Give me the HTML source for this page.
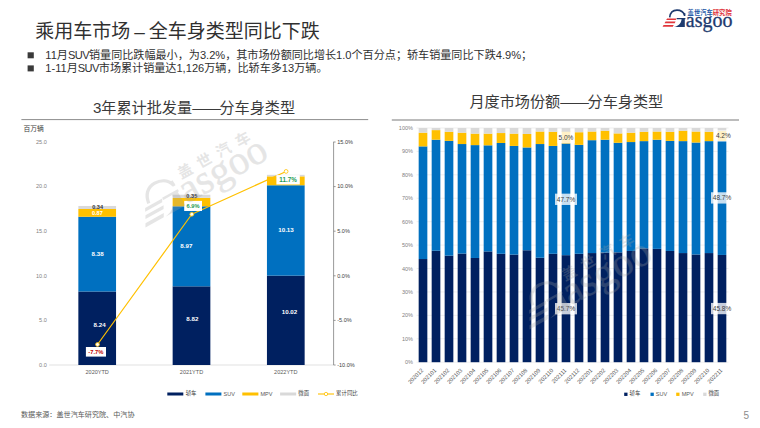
<!DOCTYPE html>
<html lang="zh"><head><meta charset="utf-8"><title>乘用车市场 – 全车身类型同比下跌</title>
<style>
html,body{margin:0;padding:0;background:#fff}
body{width:760px;height:428px;position:relative;overflow:hidden;font-family:"Liberation Sans","Noto Sans CJK SC",sans-serif}
#g{position:absolute;left:0;top:0}
.t{position:absolute;white-space:nowrap;line-height:1;}
</style></head><body>
<svg id="g" width="760" height="428" viewBox="0 0 760 428">
<rect x="27.6" y="52.3" width="6.2" height="6" fill="#3a3a3a"/>
<rect x="27.6" y="65.4" width="6.2" height="6" fill="#3a3a3a"/>
<line x1="21.4" y1="119.6" x2="368.2" y2="119.6" stroke="#7f7f7f" stroke-width="0.9"/>
<line x1="391.8" y1="120" x2="739" y2="120" stroke="#a6a6a6" stroke-width="1.3"/>
<line x1="49.2" y1="365" x2="333.6" y2="365" stroke="#d9d9d9" stroke-width="0.8"/>
<rect x="78.35" y="291.50" width="37.70" height="73.50" fill="#002060"/>
<rect x="78.35" y="216.75" width="37.70" height="74.75" fill="#0070c0"/>
<rect x="78.35" y="208.99" width="37.70" height="7.76" fill="#ffc000"/>
<rect x="78.35" y="205.96" width="37.70" height="3.03" fill="#d9d9d9"/>
<rect x="172.65" y="286.33" width="37.70" height="78.67" fill="#002060"/>
<rect x="172.65" y="206.31" width="37.70" height="80.01" fill="#0070c0"/>
<rect x="172.65" y="197.84" width="37.70" height="8.47" fill="#ffc000"/>
<rect x="172.65" y="194.72" width="37.70" height="3.12" fill="#d9d9d9"/>
<rect x="266.95" y="275.62" width="37.70" height="89.38" fill="#002060"/>
<rect x="266.95" y="185.26" width="37.70" height="90.36" fill="#0070c0"/>
<rect x="266.95" y="176.34" width="37.70" height="8.92" fill="#ffc000"/>
<rect x="266.95" y="174.83" width="37.70" height="1.52" fill="#d9d9d9"/>
<line x1="333.6" y1="141.8" x2="333.6" y2="365" stroke="#7f7f7f" stroke-width="0.8"/>
<line x1="333.6" y1="365.00" x2="335.6" y2="365.00" stroke="#7f7f7f" stroke-width="0.8"/>
<line x1="333.6" y1="320.40" x2="335.6" y2="320.40" stroke="#7f7f7f" stroke-width="0.8"/>
<line x1="333.6" y1="275.80" x2="335.6" y2="275.80" stroke="#7f7f7f" stroke-width="0.8"/>
<line x1="333.6" y1="231.20" x2="335.6" y2="231.20" stroke="#7f7f7f" stroke-width="0.8"/>
<line x1="333.6" y1="186.60" x2="335.6" y2="186.60" stroke="#7f7f7f" stroke-width="0.8"/>
<line x1="333.6" y1="142.00" x2="335.6" y2="142.00" stroke="#7f7f7f" stroke-width="0.8"/>
<polyline points="97.50,344.48 191.80,214.25 286.10,171.44" fill="none" stroke="#ffc000" stroke-width="1.2" stroke-linejoin="round"/>
<circle cx="97.50" cy="344.48" r="1.9" fill="#fff" stroke="#ffc000" stroke-width="0.8"/>
<circle cx="191.80" cy="214.25" r="1.9" fill="#fff" stroke="#ffc000" stroke-width="0.8"/>
<circle cx="286.10" cy="171.44" r="1.9" fill="#fff" stroke="#ffc000" stroke-width="0.8"/>
<rect x="85.90" y="347.00" width="20.10" height="9.60" fill="#fff"/>
<rect x="184.20" y="200.90" width="17.80" height="10.10" fill="#fff"/>
<rect x="276.40" y="175.10" width="23.40" height="9.40" fill="#fff"/>
<rect x="167.30" y="392.50" width="16.00" height="3" fill="#002060"/>
<rect x="205.40" y="392.50" width="16.00" height="3" fill="#0070c0"/>
<rect x="242.30" y="392.50" width="16.10" height="3" fill="#ffc000"/>
<rect x="280.10" y="392.50" width="16.10" height="3" fill="#d9d9d9"/>
<line x1="318" y1="394.00" x2="334" y2="394.00" stroke="#ffc000" stroke-width="1.1"/>
<circle cx="326" cy="394.00" r="1.7" fill="#fff" stroke="#ffc000" stroke-width="0.8"/>
<line x1="416.50" y1="362.20" x2="728.50" y2="362.20" stroke="#e4e4e4" stroke-width="0.6"/>
<line x1="416.50" y1="338.78" x2="728.50" y2="338.78" stroke="#e4e4e4" stroke-width="0.6"/>
<line x1="416.50" y1="315.36" x2="728.50" y2="315.36" stroke="#e4e4e4" stroke-width="0.6"/>
<line x1="416.50" y1="291.94" x2="728.50" y2="291.94" stroke="#e4e4e4" stroke-width="0.6"/>
<line x1="416.50" y1="268.52" x2="728.50" y2="268.52" stroke="#e4e4e4" stroke-width="0.6"/>
<line x1="416.50" y1="245.10" x2="728.50" y2="245.10" stroke="#e4e4e4" stroke-width="0.6"/>
<line x1="416.50" y1="221.68" x2="728.50" y2="221.68" stroke="#e4e4e4" stroke-width="0.6"/>
<line x1="416.50" y1="198.26" x2="728.50" y2="198.26" stroke="#e4e4e4" stroke-width="0.6"/>
<line x1="416.50" y1="174.84" x2="728.50" y2="174.84" stroke="#e4e4e4" stroke-width="0.6"/>
<line x1="416.50" y1="151.42" x2="728.50" y2="151.42" stroke="#e4e4e4" stroke-width="0.6"/>
<line x1="416.50" y1="128.00" x2="728.50" y2="128.00" stroke="#e4e4e4" stroke-width="0.6"/>
<rect x="418.67" y="259.03" width="8.67" height="103.17" fill="#002060"/>
<rect x="418.67" y="146.38" width="8.67" height="112.65" fill="#0070c0"/>
<rect x="418.67" y="132.68" width="8.67" height="13.70" fill="#ffc000"/>
<rect x="418.67" y="128.00" width="8.67" height="4.68" fill="#d9d9d9"/>
<rect x="431.67" y="250.72" width="8.67" height="111.48" fill="#002060"/>
<rect x="431.67" y="139.71" width="8.67" height="111.01" fill="#0070c0"/>
<rect x="431.67" y="130.11" width="8.67" height="9.60" fill="#ffc000"/>
<rect x="431.67" y="128.00" width="8.67" height="2.11" fill="#d9d9d9"/>
<rect x="444.67" y="255.64" width="8.67" height="106.56" fill="#002060"/>
<rect x="444.67" y="140.88" width="8.67" height="114.76" fill="#0070c0"/>
<rect x="444.67" y="131.75" width="8.67" height="9.13" fill="#ffc000"/>
<rect x="444.67" y="128.00" width="8.67" height="3.75" fill="#d9d9d9"/>
<rect x="457.67" y="253.53" width="8.67" height="108.67" fill="#002060"/>
<rect x="457.67" y="144.04" width="8.67" height="109.49" fill="#0070c0"/>
<rect x="457.67" y="132.68" width="8.67" height="11.36" fill="#ffc000"/>
<rect x="457.67" y="128.00" width="8.67" height="4.68" fill="#d9d9d9"/>
<rect x="470.67" y="257.98" width="8.67" height="104.22" fill="#002060"/>
<rect x="470.67" y="145.10" width="8.67" height="112.88" fill="#0070c0"/>
<rect x="470.67" y="133.62" width="8.67" height="11.48" fill="#ffc000"/>
<rect x="470.67" y="128.00" width="8.67" height="5.62" fill="#d9d9d9"/>
<rect x="483.67" y="251.42" width="8.67" height="110.78" fill="#002060"/>
<rect x="483.67" y="145.33" width="8.67" height="106.09" fill="#0070c0"/>
<rect x="483.67" y="133.62" width="8.67" height="11.71" fill="#ffc000"/>
<rect x="483.67" y="128.00" width="8.67" height="5.62" fill="#d9d9d9"/>
<rect x="496.67" y="253.77" width="8.67" height="108.43" fill="#002060"/>
<rect x="496.67" y="142.99" width="8.67" height="110.78" fill="#0070c0"/>
<rect x="496.67" y="133.04" width="8.67" height="9.95" fill="#ffc000"/>
<rect x="496.67" y="128.00" width="8.67" height="5.04" fill="#d9d9d9"/>
<rect x="509.67" y="254.59" width="8.67" height="107.61" fill="#002060"/>
<rect x="509.67" y="145.92" width="8.67" height="108.67" fill="#0070c0"/>
<rect x="509.67" y="133.62" width="8.67" height="12.30" fill="#ffc000"/>
<rect x="509.67" y="128.00" width="8.67" height="5.62" fill="#d9d9d9"/>
<rect x="522.66" y="250.25" width="8.67" height="111.95" fill="#002060"/>
<rect x="522.66" y="147.44" width="8.67" height="102.81" fill="#0070c0"/>
<rect x="522.66" y="133.97" width="8.67" height="13.47" fill="#ffc000"/>
<rect x="522.66" y="128.00" width="8.67" height="5.97" fill="#d9d9d9"/>
<rect x="535.66" y="257.75" width="8.67" height="104.45" fill="#002060"/>
<rect x="535.66" y="144.04" width="8.67" height="113.70" fill="#0070c0"/>
<rect x="535.66" y="131.51" width="8.67" height="12.53" fill="#ffc000"/>
<rect x="535.66" y="128.00" width="8.67" height="3.51" fill="#d9d9d9"/>
<rect x="548.66" y="253.77" width="8.67" height="108.43" fill="#002060"/>
<rect x="548.66" y="145.92" width="8.67" height="107.85" fill="#0070c0"/>
<rect x="548.66" y="131.75" width="8.67" height="14.17" fill="#ffc000"/>
<rect x="548.66" y="128.00" width="8.67" height="3.75" fill="#d9d9d9"/>
<rect x="561.66" y="255.17" width="8.67" height="107.03" fill="#002060"/>
<rect x="561.66" y="143.46" width="8.67" height="111.71" fill="#0070c0"/>
<rect x="561.66" y="131.75" width="8.67" height="11.71" fill="#ffc000"/>
<rect x="561.66" y="128.00" width="8.67" height="3.75" fill="#d9d9d9"/>
<rect x="574.66" y="253.77" width="8.67" height="108.43" fill="#002060"/>
<rect x="574.66" y="144.86" width="8.67" height="108.90" fill="#0070c0"/>
<rect x="574.66" y="132.22" width="8.67" height="12.65" fill="#ffc000"/>
<rect x="574.66" y="128.00" width="8.67" height="4.22" fill="#d9d9d9"/>
<rect x="587.66" y="253.06" width="8.67" height="109.14" fill="#002060"/>
<rect x="587.66" y="140.18" width="8.67" height="112.88" fill="#0070c0"/>
<rect x="587.66" y="131.51" width="8.67" height="8.67" fill="#ffc000"/>
<rect x="587.66" y="128.00" width="8.67" height="3.51" fill="#d9d9d9"/>
<rect x="600.66" y="252.59" width="8.67" height="109.61" fill="#002060"/>
<rect x="600.66" y="139.71" width="8.67" height="112.88" fill="#0070c0"/>
<rect x="600.66" y="130.69" width="8.67" height="9.02" fill="#ffc000"/>
<rect x="600.66" y="128.00" width="8.67" height="2.69" fill="#d9d9d9"/>
<rect x="613.66" y="252.36" width="8.67" height="109.84" fill="#002060"/>
<rect x="613.66" y="142.75" width="8.67" height="109.61" fill="#0070c0"/>
<rect x="613.66" y="133.39" width="8.67" height="9.37" fill="#ffc000"/>
<rect x="613.66" y="128.00" width="8.67" height="5.39" fill="#d9d9d9"/>
<rect x="626.66" y="250.95" width="8.67" height="111.25" fill="#002060"/>
<rect x="626.66" y="142.05" width="8.67" height="108.90" fill="#0070c0"/>
<rect x="626.66" y="132.68" width="8.67" height="9.37" fill="#ffc000"/>
<rect x="626.66" y="128.00" width="8.67" height="4.68" fill="#d9d9d9"/>
<rect x="639.66" y="248.38" width="8.67" height="113.82" fill="#002060"/>
<rect x="639.66" y="141.12" width="8.67" height="107.26" fill="#0070c0"/>
<rect x="639.66" y="131.75" width="8.67" height="9.37" fill="#ffc000"/>
<rect x="639.66" y="128.00" width="8.67" height="3.75" fill="#d9d9d9"/>
<rect x="652.66" y="248.85" width="8.67" height="113.35" fill="#002060"/>
<rect x="652.66" y="139.71" width="8.67" height="109.14" fill="#0070c0"/>
<rect x="652.66" y="131.51" width="8.67" height="8.20" fill="#ffc000"/>
<rect x="652.66" y="128.00" width="8.67" height="3.51" fill="#d9d9d9"/>
<rect x="665.66" y="250.95" width="8.67" height="111.25" fill="#002060"/>
<rect x="665.66" y="140.88" width="8.67" height="110.07" fill="#0070c0"/>
<rect x="665.66" y="131.75" width="8.67" height="9.13" fill="#ffc000"/>
<rect x="665.66" y="128.00" width="8.67" height="3.75" fill="#d9d9d9"/>
<rect x="678.66" y="253.06" width="8.67" height="109.14" fill="#002060"/>
<rect x="678.66" y="141.12" width="8.67" height="111.95" fill="#0070c0"/>
<rect x="678.66" y="130.69" width="8.67" height="10.42" fill="#ffc000"/>
<rect x="678.66" y="128.00" width="8.67" height="2.69" fill="#d9d9d9"/>
<rect x="691.66" y="254.47" width="8.67" height="107.73" fill="#002060"/>
<rect x="691.66" y="142.52" width="8.67" height="111.95" fill="#0070c0"/>
<rect x="691.66" y="131.51" width="8.67" height="11.01" fill="#ffc000"/>
<rect x="691.66" y="128.00" width="8.67" height="3.51" fill="#d9d9d9"/>
<rect x="704.66" y="253.06" width="8.67" height="109.14" fill="#002060"/>
<rect x="704.66" y="141.12" width="8.67" height="111.95" fill="#0070c0"/>
<rect x="704.66" y="131.75" width="8.67" height="9.37" fill="#ffc000"/>
<rect x="704.66" y="128.00" width="8.67" height="3.75" fill="#d9d9d9"/>
<rect x="717.66" y="254.94" width="8.67" height="107.26" fill="#002060"/>
<rect x="717.66" y="140.88" width="8.67" height="114.06" fill="#0070c0"/>
<rect x="717.66" y="131.04" width="8.67" height="9.84" fill="#ffc000"/>
<rect x="717.66" y="128.00" width="8.67" height="3.04" fill="#d9d9d9"/>
<rect x="555.00" y="303.04" width="22.00" height="11.3" fill="#fff" fill-opacity="0.78"/>
<rect x="555.00" y="193.66" width="22.00" height="11.3" fill="#fff" fill-opacity="0.78"/>
<rect x="557.40" y="131.95" width="17.20" height="11.3" fill="#fff" fill-opacity="0.78"/>
<rect x="711.00" y="302.92" width="22.00" height="11.3" fill="#fff" fill-opacity="0.78"/>
<rect x="711.00" y="192.26" width="22.00" height="11.3" fill="#fff" fill-opacity="0.78"/>
<rect x="714.70" y="130.31" width="17.20" height="11.3" fill="#fff" fill-opacity="0.78"/>
<rect x="624.20" y="392.65" width="3.3" height="3.3" fill="#002060"/>
<rect x="650.50" y="392.65" width="3.3" height="3.3" fill="#0070c0"/>
<rect x="676.20" y="392.65" width="3.3" height="3.3" fill="#ffc000"/>
<rect x="703.20" y="392.65" width="3.3" height="3.3" fill="#d9d9d9"/>
</svg>
<div class="t" style="left:35.30px;top:30.70px;font-size:19.00px;color:#303030;transform:translate(0,-50%);word-spacing:-1.3px;">乘用车市场 – 全车身类型同比下跌</div>
<div class="t" style="left:45.30px;top:55.70px;font-size:11.10px;color:#303030;transform:translate(0,-50%);">11月<span style="letter-spacing:-.6px">SUV</span>销量同比跌幅最小，为3.2%，其市场份额同比增长1.0个百分点；轿车销量同比下跌4.9%；</div>
<div class="t" style="left:45.30px;top:68.70px;font-size:11.10px;color:#303030;transform:translate(0,-50%);">1-11月<span style="letter-spacing:-.6px">SUV</span>市场累计销量达1,126万辆，比轿车多13万辆。</div>
<div class="t" style="left:194.00px;top:108.00px;font-size:15.15px;color:#3a3a3a;transform:translate(-50%,-50%);">3年累计批发量<span style="letter-spacing:-.1em">——</span>分车身类型</div>
<div class="t" style="left:566.30px;top:101.50px;font-size:15.15px;color:#3a3a3a;transform:translate(-50%,-50%);">月度市场份额<span style="letter-spacing:-.1em">——</span>分车身类型</div>
<div class="t" style="left:46.80px;top:365.80px;font-size:5.54px;color:#7f7f7f;transform:translate(-100%,-50%);">0.0</div>
<div class="t" style="left:46.80px;top:321.20px;font-size:5.54px;color:#7f7f7f;transform:translate(-100%,-50%);">5.0</div>
<div class="t" style="left:46.80px;top:276.60px;font-size:5.54px;color:#7f7f7f;transform:translate(-100%,-50%);">10.0</div>
<div class="t" style="left:46.80px;top:232.00px;font-size:5.54px;color:#7f7f7f;transform:translate(-100%,-50%);">15.0</div>
<div class="t" style="left:46.80px;top:187.40px;font-size:5.54px;color:#7f7f7f;transform:translate(-100%,-50%);">20.0</div>
<div class="t" style="left:46.80px;top:142.80px;font-size:5.54px;color:#7f7f7f;transform:translate(-100%,-50%);">25.0</div>
<div class="t" style="left:337.20px;top:365.80px;font-size:5.54px;color:#404040;transform:translate(0,-50%);">-10.0%</div>
<div class="t" style="left:337.20px;top:321.20px;font-size:5.54px;color:#404040;transform:translate(0,-50%);">-5.0%</div>
<div class="t" style="left:337.20px;top:276.60px;font-size:5.54px;color:#404040;transform:translate(0,-50%);">0.0%</div>
<div class="t" style="left:337.20px;top:232.00px;font-size:5.54px;color:#404040;transform:translate(0,-50%);">5.0%</div>
<div class="t" style="left:337.20px;top:187.40px;font-size:5.54px;color:#404040;transform:translate(0,-50%);">10.0%</div>
<div class="t" style="left:337.20px;top:142.80px;font-size:5.54px;color:#404040;transform:translate(0,-50%);">15.0%</div>
<div class="t" style="left:23.40px;top:128.50px;font-size:6.80px;color:#404040;transform:translate(0,-50%);">百万辆</div>
<div class="t" style="left:97.20px;top:373.40px;font-size:5.54px;color:#595959;transform:translate(-50%,-50%);">2020YTD</div>
<div class="t" style="left:191.50px;top:373.40px;font-size:5.54px;color:#595959;transform:translate(-50%,-50%);">2021YTD</div>
<div class="t" style="left:285.80px;top:373.40px;font-size:5.54px;color:#595959;transform:translate(-50%,-50%);">2022YTD</div>
<div class="t" style="left:99.60px;top:325.00px;font-size:6.20px;color:#fff;font-weight:bold;transform:translate(-50%,-50%);">8.24</div>
<div class="t" style="left:97.60px;top:253.80px;font-size:6.20px;color:#fff;font-weight:bold;transform:translate(-50%,-50%);">8.38</div>
<div class="t" style="left:97.40px;top:213.50px;font-size:5.60px;color:#fff;font-weight:bold;transform:translate(-50%,-50%);">0.87</div>
<div class="t" style="left:97.60px;top:207.80px;font-size:5.60px;color:#333;font-weight:bold;transform:translate(-50%,-50%);">0.34</div>
<div class="t" style="left:192.40px;top:319.10px;font-size:6.20px;color:#fff;font-weight:bold;transform:translate(-50%,-50%);">8.82</div>
<div class="t" style="left:186.40px;top:246.00px;font-size:6.20px;color:#fff;font-weight:bold;transform:translate(-50%,-50%);">8.97</div>
<div class="t" style="left:191.80px;top:196.90px;font-size:5.60px;color:#333;font-weight:bold;transform:translate(-50%,-50%);">0.35</div>
<div class="t" style="left:289.50px;top:311.80px;font-size:6.20px;color:#fff;font-weight:bold;transform:translate(-50%,-50%);">10.02</div>
<div class="t" style="left:286.00px;top:230.10px;font-size:6.20px;color:#fff;font-weight:bold;transform:translate(-50%,-50%);">10.13</div>
<div class="t" style="left:95.95px;top:352.80px;font-size:5.80px;color:#c00000;font-weight:bold;transform:translate(-50%,-50%);">-7.7%</div>
<div class="t" style="left:193.10px;top:206.95px;font-size:5.70px;color:#1e9a50;font-weight:bold;transform:translate(-50%,-50%);">6.9%</div>
<div class="t" style="left:288.10px;top:180.00px;font-size:6.30px;color:#1e9a50;font-weight:bold;transform:translate(-50%,-50%);">11.7%</div>
<div class="t" style="left:185.70px;top:394.00px;font-size:5.40px;color:#404040;transform:translate(0,-50%);">轿车</div>
<div class="t" style="left:223.50px;top:394.80px;font-size:5.54px;color:#595959;transform:translate(0,-50%);">SUV</div>
<div class="t" style="left:260.50px;top:394.80px;font-size:5.54px;color:#595959;transform:translate(0,-50%);">MPV</div>
<div class="t" style="left:298.30px;top:394.00px;font-size:5.40px;color:#404040;transform:translate(0,-50%);">微面</div>
<div class="t" style="left:336.10px;top:394.00px;font-size:5.40px;color:#404040;transform:translate(0,-50%);">累计同比</div>
<div class="t" style="left:413.00px;top:363.20px;font-size:5.54px;color:#7f7f7f;transform:translate(-100%,-50%);">0%</div>
<div class="t" style="left:413.00px;top:339.78px;font-size:5.54px;color:#7f7f7f;transform:translate(-100%,-50%);">10%</div>
<div class="t" style="left:413.00px;top:316.36px;font-size:5.54px;color:#7f7f7f;transform:translate(-100%,-50%);">20%</div>
<div class="t" style="left:413.00px;top:292.94px;font-size:5.54px;color:#7f7f7f;transform:translate(-100%,-50%);">30%</div>
<div class="t" style="left:413.00px;top:269.52px;font-size:5.54px;color:#7f7f7f;transform:translate(-100%,-50%);">40%</div>
<div class="t" style="left:413.00px;top:246.10px;font-size:5.54px;color:#7f7f7f;transform:translate(-100%,-50%);">50%</div>
<div class="t" style="left:413.00px;top:222.68px;font-size:5.54px;color:#7f7f7f;transform:translate(-100%,-50%);">60%</div>
<div class="t" style="left:413.00px;top:199.26px;font-size:5.54px;color:#7f7f7f;transform:translate(-100%,-50%);">70%</div>
<div class="t" style="left:413.00px;top:175.84px;font-size:5.54px;color:#7f7f7f;transform:translate(-100%,-50%);">80%</div>
<div class="t" style="left:413.00px;top:152.42px;font-size:5.54px;color:#7f7f7f;transform:translate(-100%,-50%);">90%</div>
<div class="t" style="left:413.00px;top:129.00px;font-size:5.54px;color:#7f7f7f;transform:translate(-100%,-50%);">100%</div>
<div class="t" style="left:422.70px;top:370.30px;font-size:5.70px;color:#595959;transform-origin:100% 50%;transform:translate(-100%,-50%) rotate(-45deg);">202012</div>
<div class="t" style="left:435.70px;top:370.30px;font-size:5.70px;color:#595959;transform-origin:100% 50%;transform:translate(-100%,-50%) rotate(-45deg);">202101</div>
<div class="t" style="left:448.70px;top:370.30px;font-size:5.70px;color:#595959;transform-origin:100% 50%;transform:translate(-100%,-50%) rotate(-45deg);">202102</div>
<div class="t" style="left:461.70px;top:370.30px;font-size:5.70px;color:#595959;transform-origin:100% 50%;transform:translate(-100%,-50%) rotate(-45deg);">202103</div>
<div class="t" style="left:474.70px;top:370.30px;font-size:5.70px;color:#595959;transform-origin:100% 50%;transform:translate(-100%,-50%) rotate(-45deg);">202104</div>
<div class="t" style="left:487.70px;top:370.30px;font-size:5.70px;color:#595959;transform-origin:100% 50%;transform:translate(-100%,-50%) rotate(-45deg);">202105</div>
<div class="t" style="left:500.70px;top:370.30px;font-size:5.70px;color:#595959;transform-origin:100% 50%;transform:translate(-100%,-50%) rotate(-45deg);">202106</div>
<div class="t" style="left:513.70px;top:370.30px;font-size:5.70px;color:#595959;transform-origin:100% 50%;transform:translate(-100%,-50%) rotate(-45deg);">202107</div>
<div class="t" style="left:526.70px;top:370.30px;font-size:5.70px;color:#595959;transform-origin:100% 50%;transform:translate(-100%,-50%) rotate(-45deg);">202108</div>
<div class="t" style="left:539.70px;top:370.30px;font-size:5.70px;color:#595959;transform-origin:100% 50%;transform:translate(-100%,-50%) rotate(-45deg);">202109</div>
<div class="t" style="left:552.70px;top:370.30px;font-size:5.70px;color:#595959;transform-origin:100% 50%;transform:translate(-100%,-50%) rotate(-45deg);">202110</div>
<div class="t" style="left:565.70px;top:370.30px;font-size:5.70px;color:#595959;transform-origin:100% 50%;transform:translate(-100%,-50%) rotate(-45deg);">202111</div>
<div class="t" style="left:578.70px;top:370.30px;font-size:5.70px;color:#595959;transform-origin:100% 50%;transform:translate(-100%,-50%) rotate(-45deg);">202112</div>
<div class="t" style="left:591.70px;top:370.30px;font-size:5.70px;color:#595959;transform-origin:100% 50%;transform:translate(-100%,-50%) rotate(-45deg);">202201</div>
<div class="t" style="left:604.70px;top:370.30px;font-size:5.70px;color:#595959;transform-origin:100% 50%;transform:translate(-100%,-50%) rotate(-45deg);">202202</div>
<div class="t" style="left:617.70px;top:370.30px;font-size:5.70px;color:#595959;transform-origin:100% 50%;transform:translate(-100%,-50%) rotate(-45deg);">202203</div>
<div class="t" style="left:630.70px;top:370.30px;font-size:5.70px;color:#595959;transform-origin:100% 50%;transform:translate(-100%,-50%) rotate(-45deg);">202204</div>
<div class="t" style="left:643.70px;top:370.30px;font-size:5.70px;color:#595959;transform-origin:100% 50%;transform:translate(-100%,-50%) rotate(-45deg);">202205</div>
<div class="t" style="left:656.70px;top:370.30px;font-size:5.70px;color:#595959;transform-origin:100% 50%;transform:translate(-100%,-50%) rotate(-45deg);">202206</div>
<div class="t" style="left:669.70px;top:370.30px;font-size:5.70px;color:#595959;transform-origin:100% 50%;transform:translate(-100%,-50%) rotate(-45deg);">202207</div>
<div class="t" style="left:682.70px;top:370.30px;font-size:5.70px;color:#595959;transform-origin:100% 50%;transform:translate(-100%,-50%) rotate(-45deg);">202208</div>
<div class="t" style="left:695.70px;top:370.30px;font-size:5.70px;color:#595959;transform-origin:100% 50%;transform:translate(-100%,-50%) rotate(-45deg);">202209</div>
<div class="t" style="left:708.70px;top:370.30px;font-size:5.70px;color:#595959;transform-origin:100% 50%;transform:translate(-100%,-50%) rotate(-45deg);">202210</div>
<div class="t" style="left:721.70px;top:370.30px;font-size:5.70px;color:#595959;transform-origin:100% 50%;transform:translate(-100%,-50%) rotate(-45deg);">202211</div>
<div class="t" style="left:566.00px;top:308.89px;font-size:6.50px;color:#404040;transform:translate(-50%,-50%);">45.7%</div>
<div class="t" style="left:566.00px;top:199.51px;font-size:6.50px;color:#404040;transform:translate(-50%,-50%);">47.7%</div>
<div class="t" style="left:566.00px;top:137.80px;font-size:6.50px;color:#404040;transform:translate(-50%,-50%);">5.0%</div>
<div class="t" style="left:722.00px;top:308.77px;font-size:6.50px;color:#404040;transform:translate(-50%,-50%);">45.8%</div>
<div class="t" style="left:722.00px;top:198.11px;font-size:6.50px;color:#404040;transform:translate(-50%,-50%);">48.7%</div>
<div class="t" style="left:723.30px;top:136.16px;font-size:6.50px;color:#404040;transform:translate(-50%,-50%);">4.2%</div>
<div class="t" style="left:629.50px;top:394.30px;font-size:5.40px;color:#404040;transform:translate(0,-50%);">轿车</div>
<div class="t" style="left:655.80px;top:395.10px;font-size:5.54px;color:#595959;transform:translate(0,-50%);">SUV</div>
<div class="t" style="left:681.70px;top:395.10px;font-size:5.54px;color:#595959;transform:translate(0,-50%);">MPV</div>
<div class="t" style="left:708.40px;top:394.30px;font-size:5.40px;color:#404040;transform:translate(0,-50%);">微面</div>
<div class="t" style="left:21.00px;top:415.50px;font-size:7.10px;color:#595959;transform:translate(0,-50%);">数据来源：盖世汽车研究院、中汽协</div>
<div class="t" style="left:746.30px;top:415.80px;font-size:10.00px;color:#8c8c8c;transform:translate(-50%,-50%);">5</div>
<svg role="img" aria-label="Gasgoo 盖世汽车研究院" style="position:absolute;left:0;top:0" width="760" height="428" viewBox="0 0 760 428"><path d="M669.7 17.3C670.2 12.8 673 10.1 677 10.1C680.8 10.1 683.6 12.1 684.6 15.3" fill="none" stroke="#1d3a6e" stroke-width="1.6"/><path d="M683.7 13.3L685.3 13L685.4 15.9L683.9 15.9Z" fill="#1d3a6e"/><path d="M676.7 18.1H685.4V19.3H684.8V26.9H673.9C677.6 26.6 681 24 681.6 19.3H676.7Z" fill="#1d3a6e"/><path d="M667.08 18.40L676.58 18.40L675.70 20.00L666.20 20.00Z" fill="#e0353a"/><path d="M665.48 21.60L675.58 21.60L674.70 23.20L664.60 23.20Z" fill="#e0353a"/><path d="M663.59 25.00L673.79 25.00L672.80 26.80L662.60 26.80Z" fill="#e0353a"/><text x="685.8" y="26.6" font-family="'Liberation Serif',serif" font-size="20" fill="#1d3a6e" stroke="#1d3a6e" stroke-width="0.30">asgoo</text><text x="687.61" y="15.29" font-family="'Liberation Sans','Noto Sans CJK SC',sans-serif" font-size="6.3" font-weight="bold" fill="#2458a6">盖世汽车<tspan fill="#e0353a">研究院</tspan></text></svg>
<svg aria-hidden="true" style="position:absolute;left:0;top:0;pointer-events:none" width="760" height="428" viewBox="0 0 760 428"><g opacity="0.27" transform="translate(190.20 191.40) rotate(-29) scale(2.05) translate(-690.2 -22)"><path d="M669.7 17.3C670.2 12.8 673 10.1 677 10.1C680.8 10.1 683.6 12.1 684.6 15.3" fill="none" stroke="#a0a0a0" stroke-width="1.6"/><path d="M683.7 13.3L685.3 13L685.4 15.9L683.9 15.9Z" fill="#a0a0a0"/><path d="M676.7 18.1H685.4V19.3H684.8V26.9H673.9C677.6 26.6 681 24 681.6 19.3H676.7Z" fill="#a0a0a0"/><path d="M667.08 18.40L676.58 18.40L675.70 20.00L666.20 20.00Z" fill="#a0a0a0"/><path d="M665.48 21.60L675.58 21.60L674.70 23.20L664.60 23.20Z" fill="#a0a0a0"/><path d="M663.59 25.00L673.79 25.00L672.80 26.80L662.60 26.80Z" fill="#a0a0a0"/><text x="685.8" y="26.6" font-family="'Liberation Serif',serif" font-size="20" fill="#a0a0a0" stroke="#a0a0a0" stroke-width="0.20">asgoo</text><text x="689.20" y="14.74" font-family="'Liberation Sans','Noto Sans CJK SC',sans-serif" font-size="7.2" font-weight="bold" letter-spacing="3.5" fill="#a0a0a0">盖世汽车</text></g></svg>
<svg aria-hidden="true" style="position:absolute;left:0;top:0;pointer-events:none" width="760" height="428" viewBox="0 0 760 428"><g opacity="0.27" transform="translate(574.20 293.40) rotate(-29) scale(2.05) translate(-690.2 -22)"><path d="M669.7 17.3C670.2 12.8 673 10.1 677 10.1C680.8 10.1 683.6 12.1 684.6 15.3" fill="none" stroke="#a0a0a0" stroke-width="1.6"/><path d="M683.7 13.3L685.3 13L685.4 15.9L683.9 15.9Z" fill="#a0a0a0"/><path d="M676.7 18.1H685.4V19.3H684.8V26.9H673.9C677.6 26.6 681 24 681.6 19.3H676.7Z" fill="#a0a0a0"/><path d="M667.08 18.40L676.58 18.40L675.70 20.00L666.20 20.00Z" fill="#a0a0a0"/><path d="M665.48 21.60L675.58 21.60L674.70 23.20L664.60 23.20Z" fill="#a0a0a0"/><path d="M663.59 25.00L673.79 25.00L672.80 26.80L662.60 26.80Z" fill="#a0a0a0"/><text x="685.8" y="26.6" font-family="'Liberation Serif',serif" font-size="20" fill="#a0a0a0" stroke="#a0a0a0" stroke-width="0.20">asgoo</text><text x="689.20" y="14.74" font-family="'Liberation Sans','Noto Sans CJK SC',sans-serif" font-size="7.2" font-weight="bold" letter-spacing="3.5" fill="#a0a0a0">盖世汽车</text></g></svg>
</body></html>
